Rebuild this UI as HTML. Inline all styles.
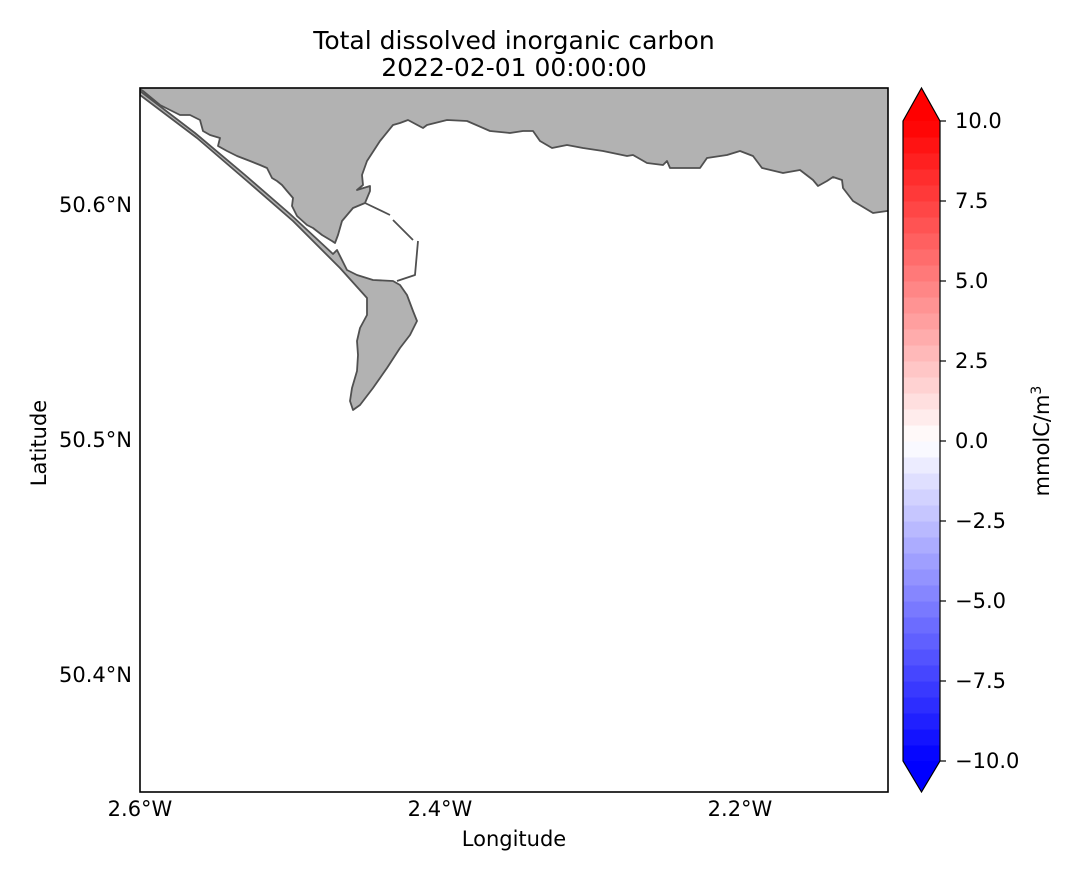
<!DOCTYPE html>
<html><head><meta charset="utf-8"><style>
body{margin:0;background:#fff}
svg text{font-family:"DejaVu Sans","Liberation Sans",sans-serif;fill:#000;font-size:21px}
svg text.title{font-size:25px}
</style></head><body>
<svg id="fig" width="1083" height="879" viewBox="0 0 1083 879" xmlns="http://www.w3.org/2000/svg">
<rect width="1083" height="879" fill="#fff"/>
<text class="title" x="514" y="49" text-anchor="middle">Total dissolved inorganic carbon</text>
<text class="title" x="514" y="76" text-anchor="middle">2022-02-01 00:00:00</text>
<g id="map">
<clipPath id="mc"><rect x="140" y="88" width="748" height="704"/></clipPath>
<g clip-path="url(#mc)" stroke="#505050" stroke-width="1.8" stroke-linejoin="round">
<polygon fill="#b2b2b2" points="138,86 890,86 890,211 887,211 873,213 853,201 843,188 842,180 833,177 827,181 818,186 813,180 800,170 783,173 762,168 753,156 740,151 727,155 707,158 700,168 670,168 667,161 663,165 647,163 633,155 627,156 603,151 583,148 567,145 552,148 540,141 533,131 523,131 510,133 490,131 467,121 447,120 427,125 423,128 408,120 400,123 393,125 380,141 367,161 362,175 363,185 357,190 370,186 370,191 365,203 353,208 342,221 338,235 335,243 332,241 322,235 313,228 307,225 297,216 292,206 293,198 287,191 282,185 277,181 272,178 267,168 260,165 250,161 237,156 227,151 218,146 220,138 210,135 203,131 200,120 190,115 180,115 160,105 143,91 138,88"/>
<polygon fill="#b2b2b2" points="140,95 197,138 247,181 293,221 340,268 367,298 367,315 360,328 357,341 358,355 357,371 352,388 350,401 353,410 360,405 373,388 387,368 400,348 410,335 417,321 413,311 407,295 400,285 393,281 373,280 357,275 347,270 337,250 333,254 290,214 245,175 195,133 140,91"/>
<polyline fill="none" points="365,203 390,215"/>
<polyline fill="none" points="393,220 413,240"/>
<polyline fill="none" points="418,241 415,275 397,281"/>
</g>
<rect x="140" y="88" width="748" height="704" fill="none" stroke="#000" stroke-width="1.6"/>
</g>
<g id="axes"></g>
<text x="514" y="846" text-anchor="middle">Longitude</text>
<text transform="translate(46,443) rotate(-90)" text-anchor="middle">Latitude</text>
<g id="cbar"></g>
<text transform="translate(1049,441) rotate(-90)" text-anchor="middle">mmolC/m<tspan style="font-size:14px" dy="-8">3</tspan></text>
</svg>
<script>
const lonTicks=[-2.6,-2.4,-2.2];
const lonLabels=["2.6°W","2.4°W","2.2°W"];
const latTicks=[50.6,50.5,50.4];
const latLabels=["50.6°N","50.5°N","50.4°N"];
const cbTicks=[10,7.5,5,2.5,0,-2.5,-5,-7.5,-10];
const cbLabels=["10.0","7.5","5.0","2.5","0.0","\u22122.5","\u22125.0","\u22127.5","\u221210.0"];
const NS="http://www.w3.org/2000/svg";
const xS=v=>140+(v+2.6)/0.2*300;
const yS=v=>205+(50.6-v)/0.1*235;
const cS=v=>441-v*32;
const ax=document.getElementById('axes');
lonTicks.forEach((v,i)=>{const t=document.createElementNS(NS,'text');
t.setAttribute('x',xS(v));t.setAttribute('y',816);t.setAttribute('text-anchor','middle');t.textContent=lonLabels[i];


ax.appendChild(t);});
latTicks.forEach((v,i)=>{const t=document.createElementNS(NS,'text');
t.setAttribute('x',132);t.setAttribute('y',yS(v)+7);t.setAttribute('text-anchor','end');t.textContent=latLabels[i];


ax.appendChild(t);});
const cb=document.getElementById('cbar');
function col(f){let r,g,b;if(f<0){r=g=Math.round(255*(1+f));b=255;}else{r=255;g=b=Math.round(255*(1-f));}return `rgb(${r},${g},${b})`;}
const N=40;
for(let k=0;k<N;k++){const v0=-10+20*k/N,v1=-10+20*(k+1)/N;const r=document.createElementNS(NS,'rect');
r.setAttribute('x',903);r.setAttribute('width',37);r.setAttribute('y',cS(v1));r.setAttribute('height',cS(v0)-cS(v1)+0.5);
r.setAttribute('fill',col((v0+v1)/20));


cb.appendChild(r);}
const up=document.createElementNS(NS,'polygon');up.setAttribute('points',`903,${cS(10)} 921.5,88 940,${cS(10)}`);up.setAttribute('fill','rgb(255,0,0)');


cb.appendChild(up);
const dn=document.createElementNS(NS,'polygon');dn.setAttribute('points',`903,${cS(-10)} 921.5,792 940,${cS(-10)}`);dn.setAttribute('fill','rgb(0,0,255)');


cb.appendChild(dn);
const ol=document.createElementNS(NS,'polygon');ol.setAttribute('points',`903,${cS(10)} 921.5,88 940,${cS(10)} 940,${cS(-10)} 921.5,792 903,${cS(-10)}`);
ol.setAttribute('fill','none');ol.setAttribute('stroke','#000');ol.setAttribute('stroke-width','1.2');


cb.appendChild(ol);
cbTicks.forEach((v,i)=>{const l=document.createElementNS(NS,'line');
l.setAttribute('x1',940);l.setAttribute('x2',946);l.setAttribute('y1',cS(v));l.setAttribute('y2',cS(v));l.setAttribute('stroke','#000');l.setAttribute('stroke-width','1.2');


cb.appendChild(l);
const t=document.createElementNS(NS,'text');t.setAttribute('x',955);t.setAttribute('y',cS(v)+7);t.textContent=cbLabels[i];


cb.appendChild(t);});
</script>
</body></html>
